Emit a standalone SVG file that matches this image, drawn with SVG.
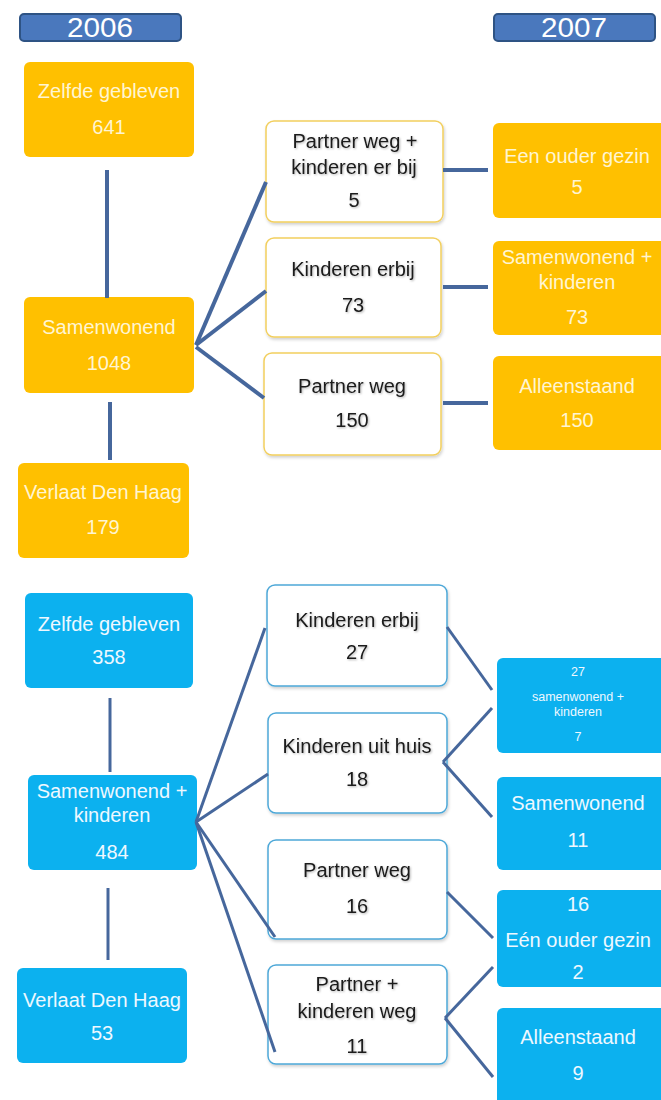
<svg xmlns="http://www.w3.org/2000/svg" width="661" height="1100" viewBox="0 0 661 1100">
<defs>
<style>
.hdr{fill:#4a78bd;stroke:#2e5384;stroke-width:2}
.hdrt{font-family:"Liberation Sans",Arial,sans-serif;font-size:27px;fill:#ffffff;text-anchor:middle;dominant-baseline:central}
.or{fill:#ffc000}
.bl{fill:#0cb1ef}
.wy{fill:#ffffff;stroke:#f2cf5e;stroke-width:1.5}
.wb{fill:#ffffff;stroke:#4ea8d8;stroke-width:1.5}
.t{font-family:"Liberation Sans",Arial,sans-serif;font-size:20px;text-anchor:middle;dominant-baseline:central}
.ty{fill:#fff5d2}
.tb{fill:#eef8ff}
.tk{fill:#1a1a1a}
.ts{font-size:12.5px}
.c1{stroke:#46679c;stroke-width:4;fill:none}
.c2{stroke:#46679c;stroke-width:3;fill:none}
</style>
<filter id="sh" x="-10%" y="-10%" width="125%" height="130%">
<feDropShadow dx="1" dy="2" stdDeviation="1.5" flood-color="#000" flood-opacity="0.18"/>
</filter>
<filter id="tsh" x="-5%" y="-20%" width="115%" height="160%">
<feDropShadow dx="1" dy="1" stdDeviation="1" flood-color="#000" flood-opacity="0.3"/>
</filter>
</defs>
<rect width="661" height="1100" fill="#ffffff"/>

<g id="h2006"><rect class="hdr" x="20" y="14" width="161" height="27" rx="4"/><text class="hdrt" x="100" y="28" textLength="66" lengthAdjust="spacingAndGlyphs">2006</text></g>
<g id="h2007"><rect class="hdr" x="494" y="14" width="161" height="27" rx="4"/><text class="hdrt" x="574" y="28" textLength="66" lengthAdjust="spacingAndGlyphs">2007</text></g>

<g id="y-zelfde"><rect class="or" x="24" y="62" width="170" height="95" rx="6"/>
<text class="t ty" x="109" y="91">Zelfde gebleven</text><text class="t ty" x="109" y="127">641</text></g>
<g id="y-samen"><rect class="or" x="24" y="297" width="170" height="96" rx="6"/>
<text class="t ty" x="109" y="327">Samenwonend</text><text class="t ty" x="109" y="363">1048</text></g>
<g id="y-verlaat"><rect class="or" x="18" y="463" width="171" height="95" rx="6"/>
<text class="t ty" x="103" y="492">Verlaat Den Haag</text><text class="t ty" x="103" y="527">179</text></g>

<g id="y-pwkb" filter="url(#sh)"><rect class="wy" x="266" y="121" width="177" height="101" rx="8"/>
<g filter="url(#tsh)"><text class="t tk" x="355" y="141">Partner weg +</text><text class="t tk" x="354" y="167">kinderen er bij</text><text class="t tk" x="354" y="200">5</text></g></g>
<g id="y-kb" filter="url(#sh)"><rect class="wy" x="266" y="238" width="175" height="99" rx="8"/>
<g filter="url(#tsh)"><text class="t tk" x="353" y="269">Kinderen erbij</text><text class="t tk" x="353" y="305">73</text></g></g>
<g id="y-pw" filter="url(#sh)"><rect class="wy" x="264" y="353" width="177" height="102" rx="8"/>
<g filter="url(#tsh)"><text class="t tk" x="352" y="386">Partner weg</text><text class="t tk" x="352" y="420">150</text></g></g>

<g id="y-eog"><rect class="or" x="493" y="123" width="180" height="95" rx="6"/>
<text class="t ty" x="577" y="156">Een ouder gezin</text><text class="t ty" x="577" y="187">5</text></g>
<g id="y-swk"><rect class="or" x="493" y="241" width="180" height="94" rx="6"/>
<text class="t ty" x="577" y="257">Samenwonend +</text><text class="t ty" x="577" y="282">kinderen</text><text class="t ty" x="577" y="317">73</text></g>
<g id="y-alleen"><rect class="or" x="493" y="356" width="180" height="94" rx="6"/>
<text class="t ty" x="577" y="386">Alleenstaand</text><text class="t ty" x="577" y="420">150</text></g>

<g id="b-zelfde"><rect class="bl" x="25" y="593" width="168" height="95" rx="6"/>
<text class="t tb" x="109" y="624">Zelfde gebleven</text><text class="t tb" x="109" y="657">358</text></g>
<g id="b-swk"><rect class="bl" x="28" y="775" width="169" height="95" rx="6"/>
<text class="t tb" x="112" y="791">Samenwonend +</text><text class="t tb" x="112" y="815">kinderen</text><text class="t tb" x="112" y="852">484</text></g>
<g id="b-verlaat"><rect class="bl" x="17" y="968" width="170" height="95" rx="6"/>
<text class="t tb" x="102" y="1000">Verlaat Den Haag</text><text class="t tb" x="102" y="1033">53</text></g>

<g id="b-kb" filter="url(#sh)"><rect class="wb" x="267" y="585" width="180" height="101" rx="8"/>
<g filter="url(#tsh)"><text class="t tk" x="357" y="620">Kinderen erbij</text><text class="t tk" x="357" y="652">27</text></g></g>
<g id="b-kuh" filter="url(#sh)"><rect class="wb" x="268" y="713" width="179" height="100" rx="8"/>
<g filter="url(#tsh)"><text class="t tk" x="357" y="746">Kinderen uit huis</text><text class="t tk" x="357" y="779">18</text></g></g>
<g id="b-pw" filter="url(#sh)"><rect class="wb" x="268" y="840" width="179" height="99" rx="8"/>
<g filter="url(#tsh)"><text class="t tk" x="357" y="870">Partner weg</text><text class="t tk" x="357" y="906">16</text></g></g>
<g id="b-pkw" filter="url(#sh)"><rect class="wb" x="268" y="965" width="179" height="99" rx="8"/>
<g filter="url(#tsh)"><text class="t tk" x="357" y="984">Partner +</text><text class="t tk" x="357" y="1011">kinderen weg</text><text class="t tk" x="357" y="1046">11</text></g></g>

<g id="b-swk2"><rect class="bl" x="497" y="658" width="176" height="95" rx="6"/>
<text class="t tb ts" x="578" y="672">27</text><text class="t tb ts" x="578" y="697">samenwonend +</text><text class="t tb ts" x="578" y="712">kinderen</text><text class="t tb ts" x="578" y="737">7</text></g>
<g id="b-sw"><rect class="bl" x="497" y="777" width="176" height="93" rx="6"/>
<text class="t tb" x="578" y="803">Samenwonend</text><text class="t tb" x="578" y="840">11</text></g>
<g id="b-eog"><rect class="bl" x="497" y="890" width="176" height="97" rx="6"/>
<text class="t tb" x="578" y="904">16</text><text class="t tb" x="578" y="940">Eén ouder gezin</text><text class="t tb" x="578" y="972">2</text></g>
<g id="b-alleen"><rect class="bl" x="497" y="1008" width="176" height="100" rx="6"/>
<text class="t tb" x="578" y="1037">Alleenstaand</text><text class="t tb" x="578" y="1073">9</text></g>

<g id="connectors">
<line class="c1" x1="107" y1="170" x2="107" y2="298"/>
<line class="c1" x1="110" y1="402" x2="110" y2="460"/>
<line class="c1" x1="196" y1="345" x2="266" y2="182"/>
<line class="c1" x1="196" y1="345" x2="266" y2="291"/>
<line class="c1" x1="196" y1="347" x2="264" y2="398"/>
<line class="c1" x1="443" y1="170" x2="488" y2="170"/>
<line class="c1" x1="443" y1="287" x2="488" y2="287"/>
<line class="c1" x1="443" y1="403" x2="488" y2="403"/>
<line class="c2" x1="110" y1="698" x2="110" y2="772"/>
<line class="c2" x1="108" y1="888" x2="108" y2="960"/>
<line class="c2" x1="196" y1="822" x2="265" y2="628"/>
<line class="c2" x1="196" y1="822" x2="268" y2="774"/>
<line class="c2" x1="196" y1="822" x2="275" y2="937"/>
<line class="c2" x1="196" y1="822" x2="275" y2="1052"/>
<line class="c2" x1="447" y1="627" x2="492" y2="690"/>
<line class="c2" x1="443" y1="762" x2="492" y2="708"/>
<line class="c2" x1="443" y1="762" x2="492" y2="817"/>
<line class="c2" x1="447" y1="892" x2="493" y2="938"/>
<line class="c2" x1="445" y1="1018" x2="493" y2="967"/>
<line class="c2" x1="445" y1="1018" x2="493" y2="1077"/>
</g>
</svg>
